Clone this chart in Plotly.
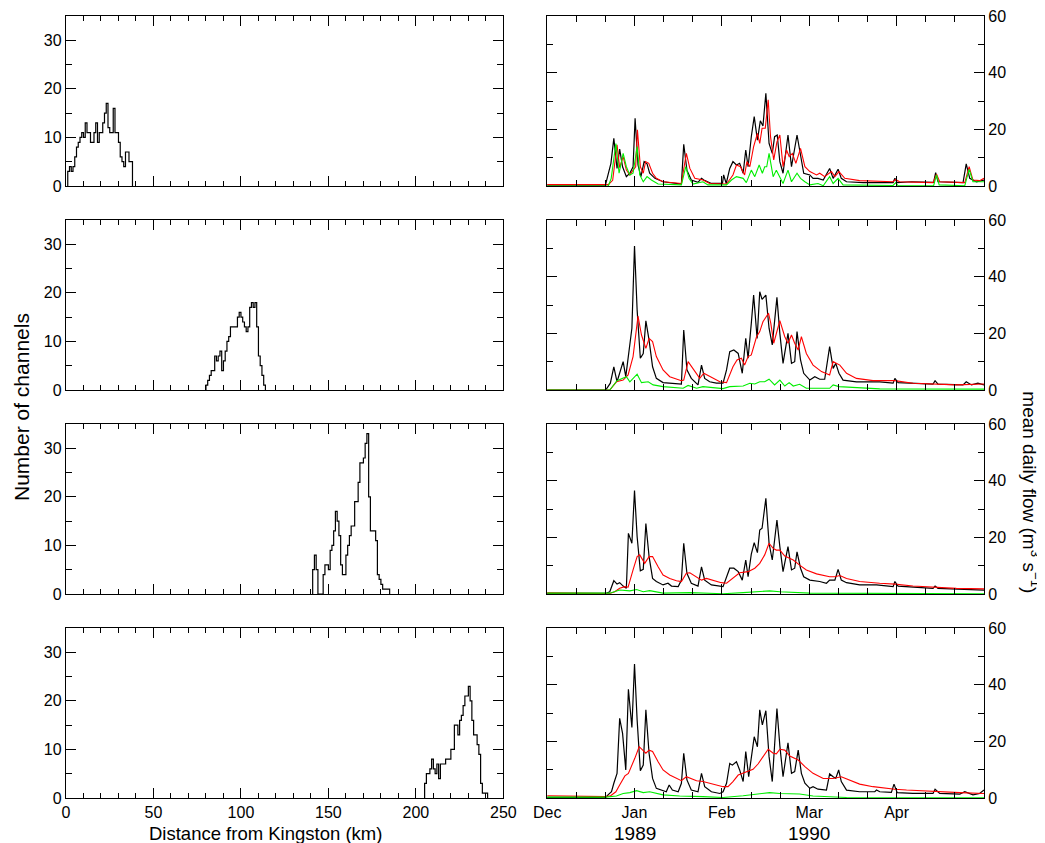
import plotly.graph_objects as go

# ---------------- DATA ----------------
# Histograms of channel counts in 1-km distance bins (first bin start km + counts)
hist_start_km = [1, 80, 141, 205]
reach1_counts = [3, 4, 3, 4, 6, 8, 9, 10, 11, 10, 13, 11, 11, 9, 9, 11, 13, 9, 11, 11, 13, 15, 17, 12,
                 11, 11, 16, 11, 11, 9, 6, 5, 4, 7, 7, 5, 5]
reach2_counts = [1, 2, 3, 4, 4, 7, 6, 7, 8, 4, 6, 8, 10, 11, 13, 13, 13, 13, 15, 16, 15, 14, 13, 12,
                 13, 17, 18, 17, 18, 13, 7, 5, 3, 1]
reach3_counts = [5, 8, 5, 0, 0, 0, 4, 6, 6, 5, 9, 10, 13, 17, 15, 12, 6, 4, 4, 8, 10, 12, 14, 14, 19,
                 19, 23, 27, 27, 28, 31, 33, 20, 13, 13, 13, 11, 4, 3, 2, 1, 1, 1, 1]
reach4_counts = [3, 5, 5, 6, 8, 6, 5, 7, 4, 7, 7, 7, 8, 8, 8, 10, 10, 15, 15, 13, 16, 17, 19, 21, 21,
                 23, 20, 16, 13, 13, 11, 9, 3, 1, 1, 1]

# Mean daily flow series: [day since 1 Dec, flow m3/s]
r1_black = [(0, 0.3), (20, 0.3), (21.9, 8), (22.9, 16.8), (24, 6.2), (24.9, 13), (25.9, 6.8), (27.2, 3.3),
            (28.4, 4.5), (29.5, 6.8), (30.2, 23.9), (31.2, 7.4), (32.2, 3.3), (33.3, 8.6), (34.3, 7.8),
            (35.2, 4.5), (37, 2.7), (39.8, 1.5), (46.1, 0.7), (46.9, 14.7), (48, 5.6), (49.5, 2.1),
            (51.8, 1.3), (53, 2.7), (53.8, 2.1), (54.9, 1.5), (56.4, 0.9), (60.2, 0.9), (60.6, 3.9),
            (61.5, 0.9), (62.7, 6.2), (63.8, 8.6), (65, 7.4), (66.1, 8.0), (67.3, 4.5), (68.2, 12.7),
            (69, 6.8), (70.1, 17.4), (71.1, 24.5), (72.2, 16.2), (73.2, 23), (74.1, 21.2), (75.1, 32.7),
            (76.2, 15), (77.3, 11.5), (78.1, 17.4), (79, 18), (79.9, 8.6), (81, 4.5), (82.7, 18),
            (83.9, 6.8), (85.8, 18), (87, 10.4), (88.1, 4.5), (90.2, 3.9), (91.3, 2.7), (93, 2.7),
            (94.8, 2.1), (97, 6.2), (98.2, 2.7), (99.9, 5.9), (101, 2.7), (102.8, 1.5), (108.5, 1.2),
            (118.8, 1.2), (119.4, 2.7), (120.2, 1.2), (125.1, 1.5), (132.7, 1.3), (133.4, 4.7),
            (134.2, 1.5), (142.8, 1.2), (143.9, 7.8), (145.1, 2.7), (147.4, 1.5), (150, 2.1)]
r1_red = [(0, 0.5), (21, 0.5), (22.5, 2), (23.2, 8), (24, 14.5), (24.9, 6.5), (26.1, 10.4), (27.2, 5.6),
          (28.4, 3.9), (29.5, 5.6), (30.4, 6.8), (31, 19.8), (32, 6.8), (33, 4.5), (33.8, 8.6), (34.9, 8),
          (36.2, 4.5), (37.5, 2.7), (39.8, 1.5), (46.1, 0.9), (47.8, 11.5), (49, 6.2), (50.7, 2.7),
          (53.5, 2.1), (55.8, 0.9), (61.6, 0.7), (63.8, 3.9), (65, 7.4), (66.4, 6.8), (67.8, 3.9),
          (68.6, 8.6), (69.6, 6.8), (70.9, 13.9), (72.2, 18.6), (73, 15), (73.8, 20.4), (74.9, 20.4),
          (75.9, 30.4), (76.7, 17.4), (77.8, 9.2), (78.9, 15.6), (79.9, 18), (81, 6.8), (82.2, 12.7),
          (83.1, 10.4), (84.2, 11.5), (85.4, 8), (87, 13.3), (88.5, 6.8), (90.2, 5.1), (92.5, 3.9),
          (93.6, 4.5), (95.3, 3.3), (97.6, 5.1), (98.8, 3.3), (100.2, 5.1), (102.2, 2.7), (107.3, 1.9),
          (118.8, 1.5), (119.6, 2.3), (121, 1.5), (132.5, 1.2), (133.7, 4.2), (134.8, 1.5), (143.4, 1.2),
          (144.9, 6.8), (146.2, 2.1), (148.5, 1.9), (150, 2.7)]
r1_green = [(0, 0), (21, 0), (22, 2.7), (23.6, 15), (24.7, 4.5), (26.1, 11.5), (27.2, 6.8), (28.4, 3.9),
            (29.5, 4.5), (30.9, 13.9), (31.8, 3.9), (33, 1.5), (34.3, 3.3), (35.8, 2.1), (38.1, 0.7),
            (46.1, 0.4), (47.6, 6.8), (48.7, 2.7), (50.1, 0.7), (53.5, 1.5), (55.2, 0.4), (61.6, 0.4),
            (63.3, 2.1), (65, 3.3), (67.3, 2.7), (68.4, 1.2), (70.1, 5.6), (71.3, 3.3), (72.8, 7.4),
            (73.9, 4.5), (74.7, 6.8), (75.4, 6.8), (76.2, 11.5), (77.6, 3.3), (78.7, 5.6), (79.9, 3.3),
            (81, 0.9), (82.7, 5.6), (83.9, 1.5), (85.8, 4.5), (87, 2.7), (88.5, 1.5), (90.2, 0.4),
            (93, 0.9), (94.8, 0.1), (97, 3.3), (98.2, 0.9), (99.9, 2.7), (101.6, 0.4), (118.8, 0.2),
            (119.7, 1.2), (120.5, 0.1), (132.7, 0.1), (133.7, 3.9), (134.6, 0.4), (143.4, 0.1),
            (144.9, 5.9), (146.2, 1.5), (150, 1.5)]

r2_black = [(0, 0), (20.1, 0), (21.7, 2.4), (22.9, 8.2), (24, 2.9), (24.9, 5.9), (26.1, 10), (27, 4.7),
            (27.9, 11.8), (29.1, 21.8), (30, 50.8), (30.9, 28.2), (32, 11.2), (33, 12.9), (33.9, 24.4),
            (35, 17.6), (36.2, 8.2), (37.5, 4.1), (39.8, 2.6), (43.2, 2.4), (46.1, 2.1), (46.9, 21.2),
            (48, 7.1), (49.5, 4.1), (51.8, 1.8), (53, 8.8), (54.1, 4.1), (55.8, 2.9), (58.1, 2.4),
            (60.4, 2.4), (61.6, 7.1), (62.7, 13.5), (64.1, 14.1), (65.6, 12.9), (67, 5.9), (68.2, 18.2),
            (69, 11.2), (70.1, 23.5), (70.9, 33.5), (72.1, 18.2), (73, 34.7), (73.8, 32), (75.1, 33.5),
            (76.2, 21.8), (77.3, 15.9), (78.9, 32.7), (79.9, 20), (81, 9.4), (82.7, 20), (83.9, 9.4),
            (85, 10), (85.8, 20.6), (87, 10.6), (88.1, 5.9), (90.2, 3.5), (91.9, 4.7), (93.6, 3.8),
            (95.3, 3.8), (97, 15.3), (98.2, 7.6), (99.1, 9.4), (100.2, 5.9), (101.6, 3.5), (106.2, 2.9),
            (114.2, 2.9), (118.8, 2.4), (119.4, 4.1), (120.5, 2.6), (132.5, 2.1), (133.2, 3.3),
            (134.2, 2.1), (142.8, 1.8), (143.9, 2.9), (145.7, 1.8), (147.9, 2.4), (150, 1.8)]
r2_red = [(0, 0), (21.5, 0), (23.8, 2.9), (26.1, 3.5), (27.8, 5.3), (29.5, 11.8), (31.2, 26.1),
          (32.4, 19.4), (33.9, 14.7), (35, 18.2), (36.2, 17.1), (37.5, 11.8), (39.8, 7.1), (42.1, 4.7),
          (46.1, 3.3), (46.9, 3.5), (48.4, 10), (50.1, 7.6), (52.4, 4.1), (53.8, 5.9), (55.8, 4.7),
          (59.3, 2.9), (61.6, 2.6), (63.8, 8.2), (65.2, 10.6), (66.7, 11.2), (67.8, 8.8), (69, 11.8),
          (70.1, 12.4), (71.9, 18.8), (73, 20.6), (74.1, 24.1), (76, 27.1), (76.8, 23.5), (77.8, 16.5),
          (78.9, 20.6), (79.9, 24.5), (81.6, 18.8), (82.7, 16.5), (83.9, 19.4), (85, 16.5), (86.2, 14.1),
          (87.3, 18.8), (89, 12.9), (91.3, 8.8), (94.2, 6.5), (97, 5.3), (98.2, 10), (100.5, 8.8),
          (102.8, 5.9), (106.2, 4.1), (111.9, 3.3), (119.4, 3.3), (125.6, 2.4), (133.7, 2.1),
          (140.5, 1.8), (150, 2.1)]
r2_green = [(0, 0), (21.5, 0), (24, 3.3), (26.1, 4.1), (27.2, 4.7), (28.4, 2.9), (30.9, 5.6), (32.4, 2.6),
            (34.7, 2.9), (36.4, 1.8), (39.8, 1.2), (46.7, 0.6), (48.4, 1.6), (51.3, 0.6), (53.5, 1.2),
            (60.4, 0.5), (62.7, 1.2), (67.3, 1.4), (69.6, 2.4), (71.3, 2.1), (73, 2.9), (74.7, 2.9),
            (76.2, 3.8), (78.1, 1.8), (79.9, 3.5), (81.6, 1.4), (83.1, 2.6), (84.5, 1.4), (86.7, 2),
            (89, 0.6), (97, 0.6), (98.2, 1.8), (100.2, 1.2), (114.2, 0.4), (150, 0.3)]

r3_black = [(0, 0.2), (20.1, 0.2), (21.5, 0.8), (22.9, 4.7), (24, 3.5), (24.9, 4), (26.1, 2.8), (27.2, 2),
            (27.9, 21.4), (29.1, 17.9), (30, 36.5), (30.9, 20.2), (32, 8.2), (33, 8.7), (33.9, 24.9),
            (35, 13.2), (36.2, 5.5), (37.5, 4.4), (39.8, 3.2), (41.5, 3.8), (42.7, 2.8), (45, 2.6),
            (46.1, 4.9), (46.9, 17.9), (48, 7.3), (49.5, 3.8), (51.8, 2.8), (53, 9.6), (54.1, 4.9),
            (56.4, 3.2), (60.4, 2.6), (61.6, 6.1), (62.7, 9.1), (64.1, 9.1), (65.6, 7.9), (67, 4.9),
            (68.2, 12), (69, 6.1), (70.1, 14.1), (71.1, 18.1), (72.2, 14.6), (73, 22.6), (73.8, 23.2),
            (75.1, 33.8), (76.2, 17.9), (77.3, 12), (78.9, 26.1), (79.9, 16.7), (81, 7.9), (82.7, 16.7),
            (83.9, 8.5), (85, 9.1), (85.8, 14.9), (87, 9.1), (88.1, 6.1), (90.2, 4.9), (91.9, 4.7),
            (93.6, 4.4), (95.9, 3.8), (97, 4.9), (98.8, 4.9), (99.9, 8.7), (101, 4.9), (102.8, 4),
            (107.3, 3.2), (113.1, 3.2), (118.8, 2.6), (119.4, 4.4), (120.5, 2.8), (125.6, 2.4),
            (132.5, 2.0), (133.2, 2.8), (134.2, 2.0), (150, 1.4)]
r3_red = [(0, 0.4), (7.8, 0.4), (9, 0.2), (21.5, 0.2), (23.2, 0.8), (24.9, 2), (26.7, 2.6), (27.8, 2.4),
          (29.5, 8.5), (30.9, 13.2), (31.8, 13.8), (33.5, 10.8), (35, 13.2), (36.2, 13.2), (38.1, 9.6),
          (39.8, 6.7), (42.1, 5.5), (44.4, 4.7), (46.1, 4.4), (47.8, 7.3), (49, 7.5), (51.3, 6.1),
          (53, 4.9), (54.7, 5.5), (57, 4.7), (59.8, 4), (61.6, 3.8), (63.8, 5.5), (66.1, 7.5), (69, 7.9),
          (71.3, 9.1), (73, 10.8), (74.7, 13.8), (76.2, 17.9), (77.6, 16.1), (78.7, 15.5), (79.9, 15.5),
          (81.6, 13.4), (83.3, 12.6), (84.5, 12), (86.7, 10.2), (89, 8.5), (92.5, 7.1), (97, 6.1),
          (98.8, 6.1), (100.5, 6.5), (102.8, 5.5), (107.3, 4.4), (114.2, 3.8), (119.4, 3.5),
          (125.6, 2.8), (133.7, 2.4), (140.5, 2), (150, 1.8)]
r3_green = [(0, 0.3), (21.5, 0.3), (24.9, 1.4), (28.4, 1.1), (30.7, 1.6), (33, 0.8), (35.2, 1.2),
            (39.8, 0.3), (49, 0.5), (60.4, 0.1), (67.3, 0.5), (76.4, 1.1), (79.9, 0.8), (90.2, 0.3),
            (150, 0.1)]

r4_black = [(0, 0.2), (20.1, 0.2), (20.9, 1.1), (22.1, 2.2), (22.9, 5.2), (24, 8.7), (24.9, 28.1),
            (25.9, 22.8), (27, 9.9), (27.9, 38.4), (29.1, 24.9), (30, 47.3), (30.9, 27.5), (32, 9.6),
            (33, 11.6), (33.9, 31.1), (35, 15.8), (36.2, 6.9), (37.5, 3.4), (39.8, 2.5), (40.9, 2.2),
            (41.9, 4.6), (43, 2.8), (45, 2.2), (46.1, 5.2), (46.9, 15.8), (48, 6.4), (49.5, 2.8),
            (51.8, 2.2), (53, 8.7), (54.1, 4), (56.4, 2.2), (59.3, 1.6), (60.4, 2.2), (61.6, 5.2),
            (62.7, 12.2), (63.6, 11.6), (65, 12.8), (66.1, 9.9), (67.3, 5.8), (68.2, 16.4), (69.2, 7.5),
            (70.1, 14.6), (71.1, 21.6), (72.2, 18.1), (73, 31.1), (73.9, 25.8), (75.1, 30.8), (76.2, 14.6),
            (77.3, 5.8), (78.9, 31.6), (79.9, 18.5), (81, 7.5), (82.7, 19.5), (83.9, 8.7), (85, 9.3),
            (86.2, 16.9), (87.3, 8.7), (88.5, 5.2), (90.2, 3.4), (91.3, 4), (93, 3.1), (95.9, 2.8),
            (97, 8.5), (98.2, 7.5), (99.1, 6.9), (100.1, 9.9), (101, 5.8), (102.8, 2.8), (107.3, 2.2),
            (112.5, 2.2), (113.1, 2.8), (114.2, 2.2), (118.2, 2), (119.1, 4.9), (120.2, 1.9),
            (125.6, 1.6), (132.5, 1.6), (133.2, 3.1), (134.8, 1.6), (141.7, 1.4), (143.4, 2.2),
            (146.2, 1.1), (148.5, 1.6), (150, 2.8)]
r4_red = [(0, 0.8), (10, 0.7), (20.1, 0.5), (21.8, 0.8), (23.6, 2.2), (24.9, 4.6), (26.7, 7.8),
          (27.9, 8.7), (29, 11.1), (30.1, 14), (31.6, 18.1), (33, 16.9), (33.9, 15.8), (35, 16.9),
          (36.2, 16.4), (38.1, 12.8), (39.8, 9.9), (42.1, 8.1), (44.4, 6.9), (46.1, 6.1), (47.8, 7.5),
          (49.5, 6.9), (51.3, 6.1), (53.5, 5.8), (55.8, 5.2), (58.1, 4.6), (60.4, 4), (62.1, 4),
          (63.8, 5.8), (65.6, 8.1), (67.3, 8.7), (69, 9.3), (70.7, 10.1), (72.4, 12), (74.1, 14.6),
          (75.9, 17.2), (77.6, 15.8), (78.7, 15.6), (79.9, 17.2), (81.6, 16.9), (83.3, 14.8),
          (86.2, 13.4), (88.5, 11.1), (91.3, 8.7), (94.8, 6.9), (98.2, 6.9), (101, 7.5), (103.9, 6.4),
          (107.3, 4.9), (111.9, 4), (116.5, 3.4), (119.4, 3.1), (123.4, 2.8), (133.7, 2.2),
          (141.7, 1.9), (150, 1.6)]
r4_green = [(0, 0.3), (20.1, 0.3), (23.8, 0.7), (26.1, 1.6), (28.4, 1.9), (30.7, 2.6), (33, 1.9),
            (35.2, 2.2), (39.8, 1.1), (45.5, 0.7), (53.5, 0.5), (60.4, 0.2), (67.3, 0.8), (74.1, 1.6),
            (76.4, 1.9), (79.9, 1.6), (86.7, 1.4), (91.3, 0.7), (102.8, 0.2), (150, 0.1)]

month_days = [0, 30, 60, 90, 120]
month_labels = ["Dec", "Jan", "Feb", "Mar", "Apr"]
minor_days = [10, 20, 40, 50, 70, 80, 100, 110, 130, 140]
year_labels = [(30, "1989"), (90, "1990")]

hist_counts = [reach1_counts, reach2_counts, reach3_counts, reach4_counts]
flows = [(r1_black, r1_red, r1_green), (r2_black, r2_red, r2_green),
         (r3_black, r3_red, r3_green), (r4_black, r4_red, r4_green)]

# ---------------- FIGURE ----------------
FONT = "Liberation Sans, Arial, Helvetica, sans-serif"
OFF = 8  # page body margin
W, H = 1045 - OFF, 843 - OFF
ML, MT = 66 - OFF, 16 - OFF
PLOT_RIGHT, PLOT_BOTTOM = 984.3 - OFF, 798 - OFF
MR, MB = W - PLOT_RIGHT, H - PLOT_BOTTOM
PW, PH = W - ML - MR, H - MT - MB


def px_x(p):  # page pixel -> paper fraction
    return (p - OFF - ML) / PW


def px_y(p):
    return 1 - (p - OFF - MT) / PH


left_dom = [0, px_x(503.5)]
right_dom = [px_x(547.3), 1]
row_tops = [16, 220, 424, 628]
row_h = 170

fig = go.Figure()
layout = {}
line_colors = ["black", "#ff0000", "#00ee00"]
line_widths = [1.2, 1.1, 1.1]
TICK_SIZE = 16

for r in range(4):
    il = 2 * r + 1
    ir = 2 * r + 2
    ydom = [px_y(row_tops[r] + row_h), px_y(row_tops[r])]
    start = hist_start_km[r]
    counts = hist_counts[r]
    edges = [start + k for k in range(len(counts) + 1)]
    xs = [edges[0]] + edges[:-1] + [edges[-1]]
    ys = [0] + counts + [0]
    fig.add_trace(go.Scatter(x=xs, y=ys, mode="lines", line=dict(color="black", width=1.2, shape="hv"),
                             xaxis=f"x{il}", yaxis=f"y{il}", showlegend=False, hoverinfo="skip"))
    for s, series in enumerate(flows[r]):
        fig.add_trace(go.Scatter(x=[p[0] for p in series], y=[p[1] for p in series], mode="lines",
                                 line=dict(color=line_colors[s], width=line_widths[s]),
                                 xaxis=f"x{ir}", yaxis=f"y{ir}", showlegend=False, hoverinfo="skip"))

    common = dict(showline=True, linecolor="black", linewidth=1.3, mirror="allticks", ticks="inside",
                  tickcolor="black", tickwidth=1.2, ticklen=10, showgrid=False, zeroline=False,
                  tickfont=dict(family=FONT, size=TICK_SIZE, color="black"), fixedrange=True,
                  ticklabeloverflow="allow")
    bottom = (r == 3)
    layout[f"xaxis{il}"] = dict(common, domain=left_dom, anchor=f"y{il}", range=[0, 250],
                                tickmode="linear", tick0=0, dtick=50, showticklabels=bottom,
                                minor=dict(tickmode="linear", tick0=0, dtick=10, ticks="inside",
                                           ticklen=5, tickcolor="black", tickwidth=1.2, showgrid=False))
    layout[f"yaxis{il}"] = dict(common, domain=ydom, anchor=f"x{il}", range=[0, 35],
                                tickmode="linear", tick0=0, dtick=10,
                                minor=dict(tickmode="linear", tick0=0, dtick=5, ticks="inside",
                                           ticklen=6, tickcolor="black", tickwidth=1.2, showgrid=False))
    layout[f"xaxis{ir}"] = dict(common, domain=right_dom, anchor=f"y{ir}", range=[0, 150],
                                tickmode="array", tickvals=month_days, ticktext=month_labels,
                                showticklabels=bottom,
                                minor=dict(tickmode="array", tickvals=minor_days, ticks="inside",
                                           ticklen=6, tickcolor="black", tickwidth=1.2, showgrid=False))
    layout[f"yaxis{ir}"] = dict(common, domain=ydom, anchor=f"x{ir}", range=[0, 60], side="right",
                                tickmode="array", tickvals=[0, 20, 40, 60],
                                minor=dict(tickmode="array", tickvals=[10, 30, 50], ticks="inside",
                                           ticklen=6, tickcolor="black", tickwidth=1.2, showgrid=False))

annotations = [
    dict(text="Number of channels", xref="paper", yref="paper", x=px_x(21), y=px_y(407),
         textangle=-90, showarrow=False, font=dict(family=FONT, size=21, color="black"),
         xanchor="center", yanchor="middle"),
    dict(text="Distance from Kingston (km)", xref="paper", yref="paper", x=px_x(266), y=px_y(833),
         showarrow=False, font=dict(family=FONT, size=18.5, color="black"),
         xanchor="center", yanchor="middle"),
    dict(text="mean daily flow (m<sup>3</sup> s<sup>−1</sup>)", xref="paper", yref="paper",
         x=px_x(1031), y=px_y(492), textangle=90, showarrow=False,
         font=dict(family=FONT, size=19, color="black"), xanchor="center", yanchor="middle"),
]
for d, label in year_labels:
    annotations.append(dict(text=label, xref="x8", yref="paper", x=d, y=px_y(833), showarrow=False,
                            font=dict(family=FONT, size=19, color="black"),
                            xanchor="center", yanchor="middle"))

fig.update_layout(width=W, height=H, margin=dict(l=ML, r=MR, t=MT, b=MB, autoexpand=False),
                  paper_bgcolor="white", plot_bgcolor="white", annotations=annotations,
                  font=dict(family=FONT, color="black"), **layout)

fig.write_html("out.html")
